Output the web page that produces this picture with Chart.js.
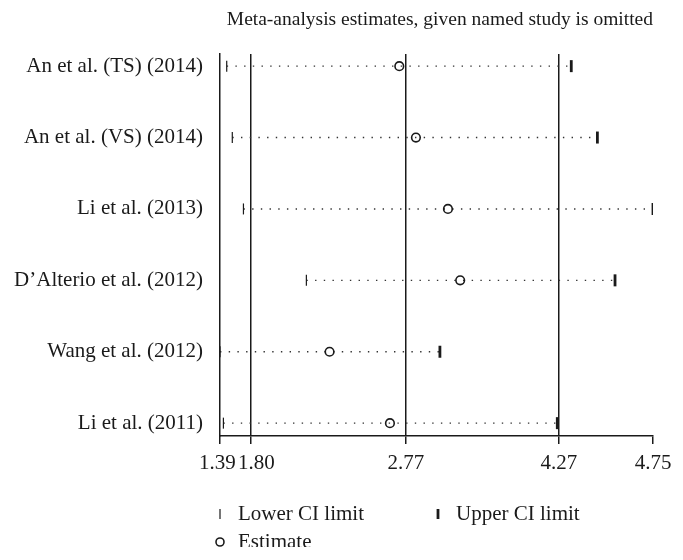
<!DOCTYPE html>
<html>
<head>
<meta charset="utf-8">
<script src="https://cdn.jsdelivr.net/npm/chart.js@4.4.1/dist/chart.umd.min.js"></script>
<style>
  html, body { margin: 0; padding: 0; background: #fff; }
  #wrap { width: 683px; height: 560px; }
</style>
</head>
<body>
<div id="wrap"><canvas id="myChart"></canvas></div>
<script>
// data
const studies = [
  "An et al. (TS) (2014)",
  "An et al. (VS) (2014)",
  "Li et al. (2013)",
  "D\u2019Alterio et al. (2012)",
  "Wang et al. (2012)",
  "Li et al. (2011)",
];
const lowerCI = [1.47, 1.54, 1.69, 2.1, 1.39, 1.43];
const estimates = [2.72, 2.85, 3.12, 3.23, 2.24, 2.65];
const upperCI = [4.33, 4.46, 4.75, 4.55, 3.05, 4.25];
// combined estimate and its CI (the three vertical lines)
const overall = [1.8, 2.77, 4.27];
const tickValues = [1.39, 1.8, 2.77, 4.27, 4.75];
const tickLabels = ["1.39", "1.80", "2.77", "4.27", "4.75"];

const FONT = "'Liberation Serif', 'DejaVu Serif', serif";
const INK = "#1a1a1a";

// x axis of the original is log-like but not uniform at the ends,
// so map the value piecewise (in log) between the labelled ticks
class PiecewiseScale extends Chart.LinearScale {
  buildTicks() {
    return this.options.stops.map((v) => ({ value: v }));
  }
  getPixelForValue(value) {
    if (value === null || isNaN(value)) return NaN;
    const stops = this.options.stops;
    const at = this.options.stopAt;
    let i = 0;
    while (i < stops.length - 2 && value > stops[i + 1]) i++;
    const t =
      (Math.log(value) - Math.log(stops[i])) /
      (Math.log(stops[i + 1]) - Math.log(stops[i]));
    return this.getPixelForDecimal(at[i] + t * (at[i + 1] - at[i]));
  }
  getValueForPixel(pixel) {
    const stops = this.options.stops;
    const at = this.options.stopAt;
    const dec = this.getDecimalForPixel(pixel);
    let i = 0;
    while (i < at.length - 2 && dec > at[i + 1]) i++;
    const t = (dec - at[i]) / (at[i + 1] - at[i]);
    return Math.exp(
      Math.log(stops[i]) + t * (Math.log(stops[i + 1]) - Math.log(stops[i]))
    );
  }
}
PiecewiseScale.id = "piecewise";
PiecewiseScale.defaults = Chart.LinearScale.defaults;
Chart.register(PiecewiseScale);

const rows = studies.map((s, i) => i + 1);

function ciLine(i) {
  return {
    type: "line",
    data: [
      { x: lowerCI[i], y: rows[i] },
      { x: upperCI[i], y: rows[i] },
    ],
    borderColor: "#333",
    borderWidth: 1.4,
    borderDash: [1.4, 7.3],
    pointRadius: 0,
    order: 5,
  };
}

// first two tick labels sit close together, nudge them apart a little
function tickText(v, i) {
  if (i === 0) return tickLabels[i] + " ";
  if (i === 1) return "  " + tickLabels[i];
  return tickLabels[i];
}

// legend of the original: two columns, cut at the bottom edge
const legendPlugin = {
  id: "ciLegend",
  afterDraw(chart) {
    const { ctx, chartArea } = chart;
    const items = [
      { ds: 0, x: chartArea.left, y: chartArea.bottom + 78 },
      { ds: 1, x: chartArea.left + 218, y: chartArea.bottom + 78 },
      { ds: 2, x: chartArea.left, y: chartArea.bottom + 106 },
    ];
    ctx.save();
    ctx.beginPath();
    ctx.rect(0, 0, chart.width, chartArea.bottom + 111);
    ctx.clip();
    ctx.font = `21px ${FONT}`;
    ctx.textBaseline = "middle";
    items.forEach((it) => {
      const ds = chart.data.datasets[it.ds];
      ctx.strokeStyle = INK;
      ctx.fillStyle = "rgba(0,0,0,0)";
      ctx.lineWidth = ds.borderWidth;
      Chart.helpers.drawPoint(
        ctx,
        {
          pointStyle: ds.pointStyle,
          rotation: ds.rotation || 0,
          radius: it.ds === 2 ? 4 : 5,
          borderWidth: ds.borderWidth,
        },
        it.x,
        it.y
      );
      ctx.fillStyle = INK;
      ctx.fillText(ds.label, it.x + 18, it.y);
    });
    ctx.restore();
  },
};

new Chart(document.querySelector("#myChart"), {
  type: "scatter",
  data: {
    datasets: [
      {
        label: "Lower CI limit",
        data: lowerCI.map((v, i) => ({ x: v, y: rows[i] })),
        pointStyle: "line",
        rotation: 90,
        pointRadius: 5.5,
        borderWidth: 1.2,
        borderColor: INK,
        order: 1,
      },
      {
        label: "Upper CI limit",
        data: upperCI.map((v, i) => ({ x: v, y: rows[i] })),
        pointStyle: "line",
        rotation: 90,
        pointRadius: 6,
        borderWidth: 2.8,
        borderColor: INK,
        order: 1,
      },
      {
        label: "Estimate",
        data: estimates.map((v, i) => ({ x: v, y: rows[i] })),
        pointStyle: "circle",
        pointRadius: 4.3,
        borderWidth: 1.6,
        borderColor: INK,
        backgroundColor: "rgba(0,0,0,0)",
        order: 1,
      },
      ...studies.map((s, i) => ciLine(i)),
    ],
  },
  options: {
    responsive: true,
    maintainAspectRatio: false,
    animation: false,
    layout: { padding: { top: 0, right: 30, bottom: 84, left: 0 } },
    plugins: {
      legend: { display: false },
      tooltip: { enabled: false },
      title: {
        display: true,
        text: "Meta-analysis estimates, given named study is omitted",
        align: "end",
        color: INK,
        font: { family: FONT, size: 19.5, weight: "normal", lineHeight: 1.2 },
        padding: { top: 8, bottom: 22.6 },
      },
    },
    scales: {
      x: {
        type: "piecewise",
        min: tickValues[0],
        max: tickValues[tickValues.length - 1],
        stops: tickValues,
        stopAt: [0, 0.0716, 0.4292, 0.7828, 1],
        afterFit: (scale) => {
          scale.height = 40;
        },
        border: { display: true, color: INK, width: 1.5 },
        grid: {
          color: (c) =>
            c.tick && overall.includes(c.tick.value) ? INK : "rgba(0,0,0,0)",
          lineWidth: 1.5,
          tickColor: INK,
          tickLength: 8,
          tickWidth: 1.5,
        },
        ticks: {
          color: INK,
          autoSkip: false,
          maxRotation: 0,
          padding: 7,
          font: { family: FONT, size: 21 },
          callback: tickText,
        },
      },
      y: {
        type: "linear",
        reverse: true,
        min: 0.83,
        max: 6.18,
        afterBuildTicks: (scale) => {
          scale.ticks = rows.map((r) => ({ value: r }));
        },
        afterFit: (scale) => {
          scale.width = 220;
        },
        border: { display: true, color: INK, width: 1.5 },
        grid: { display: false, drawTicks: false },
        ticks: {
          color: INK,
          padding: 17,
          autoSkip: false,
          font: { family: FONT, size: 21 },
          callback: (v, i) => studies[i],
        },
      },
    },
  },
  plugins: [legendPlugin],
});
</script>
</body>
</html>
